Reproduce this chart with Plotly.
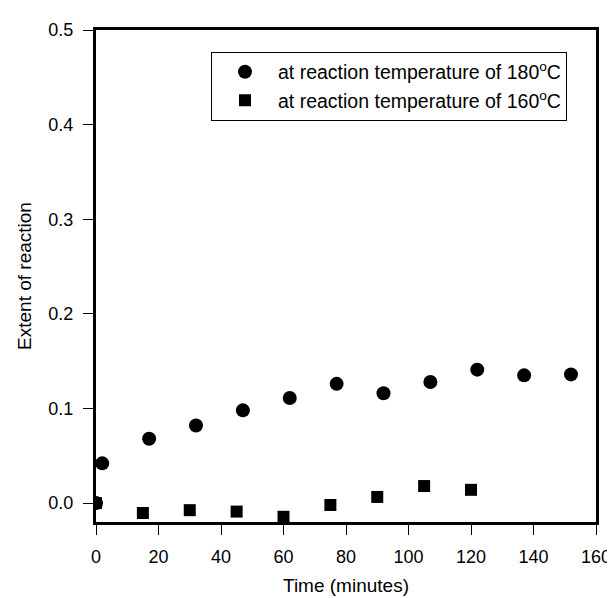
import plotly.graph_objects as go

# Data
time_180 = [0, 2, 17, 32, 47, 62, 77, 92, 107, 122, 137, 152]
extent_180 = [0.0, 0.042, 0.068, 0.082, 0.098, 0.111, 0.126, 0.116, 0.128, 0.141, 0.135, 0.136]

time_160 = [0, 15, 30, 45, 60, 75, 90, 105, 120]
extent_160 = [0.0, -0.0105, -0.0075, -0.009, -0.0145, -0.002, 0.0065, 0.018, 0.014]

x_ticks = [0, 20, 40, 60, 80, 100, 120, 140, 160]
y_ticks = [0.0, 0.1, 0.2, 0.3, 0.4, 0.5]

FONT = "Liberation Sans, Arial, sans-serif"

fig = go.Figure()
fig.add_trace(go.Scatter(
    x=time_180, y=extent_180, mode="markers",
    name="at reaction temperature of 180<sup>o</sup>C",
    marker=dict(symbol="circle", size=14, color="black"),
))
fig.add_trace(go.Scatter(
    x=time_160, y=extent_160, mode="markers",
    name="at reaction temperature of 160<sup>o</sup>C",
    marker=dict(symbol="square", size=12, color="black"),
))

axis_common = dict(
    showline=True, linecolor="black", linewidth=3, mirror=True,
    ticks="outside", ticklen=10, tickwidth=1, tickcolor="black",
    showgrid=False, zeroline=False,
    tickfont=dict(family=FONT, size=18, color="black"),
)

fig.update_xaxes(
    range=[0, 160], tickvals=x_ticks, ticktext=[str(v) for v in x_ticks],
    ticklabelstandoff=6,
    title=dict(text="Time (minutes)", font=dict(family=FONT, size=19, color="black"), standoff=14),
    **axis_common,
)
fig.update_yaxes(
    range=[-0.02, 0.5], tickvals=y_ticks, ticktext=[f"{v:.1f}" for v in y_ticks],
    ticklabelstandoff=6,
    title=dict(text="Extent of reaction", font=dict(family=FONT, size=19, color="black"), standoff=12),
    **axis_common,
)

fig.update_layout(
    width=615, height=598,
    margin=dict(l=88, r=18, t=20, b=73),
    plot_bgcolor="white", paper_bgcolor="white",
    font=dict(family=FONT, size=18, color="black"),
    legend=dict(
        x=0.23, y=0.956, xanchor="left", yanchor="top",
        bordercolor="black", borderwidth=1, bgcolor="white",
        itemwidth=56,
        font=dict(family=FONT, size=19.5, color="black"),
    ),
)

fig.write_html("out.html")
